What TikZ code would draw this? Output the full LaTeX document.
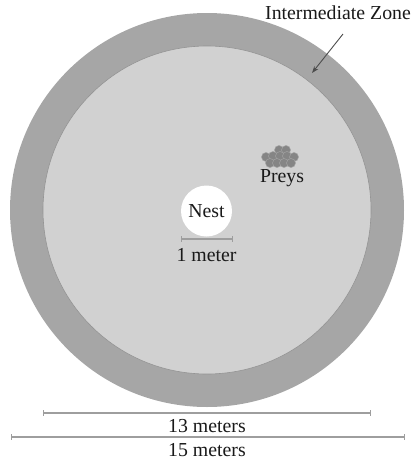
\documentclass[tikz,border=0pt]{standalone}
\usepackage{fontspec}
\setmainfont{Liberation Serif}
\usetikzlibrary{arrows.meta}
\begin{document}
\begin{tikzpicture}[x=1pt,y=-1pt,
  label/.style={font=\fontsize{19.8}{22}\selectfont, text=black!90, inner sep=0pt},
  scale line/.style={draw=black!38, line width=1.1pt},
  tick/.style={draw=black!38, line width=0.8pt},
  prey/.style={circle, fill=black!48, draw=black!36, line width=0.5pt, minimum size=9pt, inner sep=0pt}]
  \useasboundingbox (0,0) rectangle (413,461);
  % arena: intermediate ring and hunting area
  \node[circle, fill=black!35, minimum size=394pt, inner sep=0pt] (outer) at (207,210) {};
  \node[circle, fill=black!18, draw=black!42, line width=0.6pt, minimum size=328pt, inner sep=0pt] (inner) at (207,210) {};
  % nest
  \node[circle, fill=white, minimum size=51pt, inner sep=0pt, label] (nest) at (206.5,211) {Nest};
  \coordinate (m1l) at (181,239);
  \coordinate (m1r) at (232,239);
  \draw[scale line] (m1l) -- (m1r);
  \draw[tick] (181,236) -- (181,242) (232,236) -- (232,242);
  \node[label] (meter) at (206.5,255) {1 meter};
  % prey cluster
  \foreach \px/\py [count=\i] in {279/150, 286/150, 266/157, 273/156, 280/156, 287/156, 294/157, 270/163, 277/163, 284/163, 291/163}
    \node[prey] (p\i) at (\px,\py) {};
  \node[label] (preys) at (282,178) {Preys};
  % zone label
  \node[label] (zone) at (338,13) {Intermediate Zone};
  \coordinate (zt) at (312,73);
  \draw[-{Stealth[length=7pt,width=5pt]}, black!70, line width=0.9pt] (343,34) -- (zt);
  % scale bars
  \coordinate (s13l) at (43,413);
  \coordinate (s13r) at (370,413);
  \draw[scale line] (s13l) -- (s13r);
  \draw[tick] (43,410) -- (43,416) (370,410) -- (370,416);
  \node[label] (l13) at (207,426) {13 meters};
  \coordinate (s15l) at (11,437);
  \coordinate (s15r) at (404,437);
  \draw[scale line] (s15l) -- (s15r);
  \draw[tick] (11,434) -- (11,440) (404,434) -- (404,440);
  \node[label] (l15) at (207,450) {15 meters};
\end{tikzpicture}
\end{document}
